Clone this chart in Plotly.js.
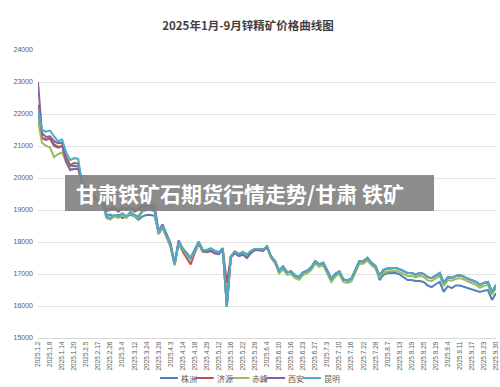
<!DOCTYPE html>
<html>
<head>
<meta charset="utf-8">
<script src="https://cdn.plot.ly/plotly-3.0.1.min.js"></script>
<style>html,body{margin:0;padding:0;background:#fff;}#chart{width:500px;height:387px;}</style>
</head>
<body>
<div id="chart"></div>
<script>
const chartTitle = "2025年1月-9月锌精矿价格曲线图";
const bannerText = "甘肃铁矿石期货行情走势/甘肃 铁矿";

const tickLabels = ["2025.1.2","2025.1.8","2025.1.14","2025.1.20","2025.2.5","2025.2.17","2025.2.26","2025.3.4","2025.3.12","2025.3.24","2025.3.28","2025.4.3","2025.4.14","2025.4.18","2025.4.29","2025.5.12","2025.5.16","2025.5.22","2025.5.28","2025.6.4","2025.6.10","2025.6.16","2025.6.23","2025.6.27","2025.7.3","2025.7.10","2025.7.16","2025.7.22","2025.7.28","2025.8.7","2025.8.13","2025.8.19","2025.8.25","2025.8.29","2025.9.4","2025.9.11","2025.9.17","2025.9.23","2025.9.30"];

const seriesNames = ["株洲","济源","赤峰","西安","昆明"];
const seriesColors = ["#4F81BD","#C0504D","#9BBB59","#8064A2","#4BACC6"];

const zhuzhou = [22200,21250,21200,21230,21000,20950,21000,20600,20380,20380,
20370,19820,19650,19550,19400,19250,19300,18850,18850,18800,
18850,18750,18800,18850,18800,18700,18800,18840,18840,18820,
18300,18500,18200,17900,17300,18000,17800,17650,17500,17750,
18000,17750,17750,17800,17720,17680,17810,15990,17550,17700,
17620,17680,17600,17720,17780,17780,17760,17860,17550,17400,
17100,17230,17050,17080,16950,16900,17050,17100,17200,17400,
17300,17350,17100,16850,17000,17080,16830,16800,16850,17100,
17400,17400,17500,17350,17250,16810,16970,17030,17030,17030,
16990,16900,16810,16810,16780,16780,16750,16640,16590,16680,
16750,16440,16620,16560,16640,16640,16600,16560,16500,16470,
16440,16480,16500,16190,16400];

const jiyuan = [22280,21250,21200,21230,21050,20970,21000,20650,20400,20470,
20450,19850,19650,19550,19400,19250,19350,18970,19000,19050,
18950,19050,19000,19080,18950,19000,19120,19120,19120,19100,
18250,18450,18150,17850,17280,17950,17700,17500,17300,17650,
17950,17690,17680,17720,17650,17640,17780,16720,17550,17700,
17620,17680,17600,17720,17780,17780,17760,17860,17550,17400,
17100,17230,17050,17080,16950,16900,17050,17100,17200,17400,
17300,17350,17100,16850,17000,17080,16830,16800,16850,17100,
17400,17400,17500,17350,17250,16950,17130,17170,17190,17190,
17150,17100,17030,17030,16980,17030,17000,16900,16870,16950,
17030,16720,16900,16880,16940,16960,16920,16850,16800,16750,
16660,16720,16750,16440,16660];

const chifeng = [21780,21100,21000,20950,20650,20750,20800,20500,20280,20300,
20300,19750,19600,19500,19350,19200,19250,18750,18700,18800,
18750,18850,18750,18900,18800,18750,18950,19000,19000,18950,
18250,18450,18150,17850,17280,17950,17750,17600,17450,17700,
17950,17700,17700,17750,17680,17640,17780,15990,17520,17660,
17580,17640,17560,17680,17740,17740,17720,17820,17500,17330,
17020,17150,16970,17000,16870,16820,16970,17020,17120,17320,
17220,17270,17020,16750,16920,17000,16750,16720,16770,17020,
17320,17320,17420,17270,17170,16880,17050,17080,17100,17100,
17060,17000,16940,16940,16890,16940,16910,16800,16780,16860,
16940,16630,16810,16790,16850,16870,16830,16760,16710,16660,
16570,16630,16660,16350,16570];

const xian = [23000,21400,21280,21300,21150,21090,21100,20500,20250,20280,
20280,19850,19700,19600,19450,19300,19350,19000,19050,19080,
19000,19100,19050,19100,19000,19050,19160,19160,19160,19150,
18350,18550,18250,17950,17350,18050,17800,17650,17500,17750,
18000,17720,17700,17720,17650,17620,17750,15990,17520,17650,
17560,17600,17500,17650,17750,17750,17720,17860,17550,17400,
17100,17230,17050,17080,16950,16900,17050,17100,17200,17400,
17300,17350,17100,16850,17000,17080,16830,16800,16850,17100,
17400,17400,17500,17350,17250,16950,17130,17170,17190,17190,
17150,17100,17030,17030,16980,17030,17000,16900,16870,16950,
17030,16720,16900,16880,16940,16960,16920,16850,16800,16750,
16660,16720,16750,16440,16660];

const kunming = [22150,21500,21450,21480,21300,21150,21200,20800,20560,20620,
20600,19800,19650,19550,19400,19250,19300,18800,18750,18850,
18800,18900,18800,18950,18850,18800,19000,19050,19050,19000,
18300,18500,18200,17900,17300,18000,17800,17650,17500,17750,
18000,17750,17750,17800,17720,17680,17810,15970,17550,17700,
17620,17680,17600,17720,17780,17780,17760,17860,17550,17400,
17100,17230,17050,17080,16950,16900,17050,17100,17200,17400,
17300,17350,17100,16850,17000,17080,16830,16800,16850,17100,
17400,17400,17500,17350,17250,16950,17130,17170,17190,17190,
17150,17100,17030,17030,16980,17030,17000,16900,16870,16950,
17030,16720,16900,16880,16940,16960,16920,16850,16800,16750,
16660,16720,16750,16440,16660];

const seriesValues = [zhuzhou, jiyuan, chifeng, xian, kunming];
const labelStep = 3;

const nPts = kunming.length;
const xIdx = kunming.map((_, i) => i);
const tickVals = tickLabels.map((_, k) => k * labelStep);

const W = 500, H = 387;
const M = {l: 38, r: 4, t: 50, b: 49};
const plotW = W - M.l - M.r, plotH = H - M.t - M.b;
const px2x = px => (px - M.l) / plotW;
const py2y = py => (H - M.b - py) / plotH;

const traces = seriesValues.map((vals, k) => ({
  type: 'scatter', mode: 'lines', name: seriesNames[k],
  x: xIdx, y: vals,
  line: {color: seriesColors[k], width: 2},
  hoverinfo: 'skip'
}));

const shapes = [];
const annotations = [];

// legend
const legStart = 160, legPitch = 35.7, legY = 378;
seriesNames.forEach((nm, k) => {
  const x0 = legStart + k * legPitch;
  shapes.push({type: 'line', xref: 'paper', yref: 'paper',
    x0: px2x(x0), x1: px2x(x0 + 18), y0: py2y(legY), y1: py2y(legY),
    line: {color: seriesColors[k], width: 2}});
  annotations.push({xref: 'paper', yref: 'paper', x: px2x(x0 + 19), y: py2y(legY),
    xanchor: 'left', yanchor: 'middle', showarrow: false, text: nm,
    font: {size: 8, color: '#595959', family: '"Noto Sans CJK SC", sans-serif'}});
});

// banner overlay
shapes.push({type: 'rect', xref: 'paper', yref: 'paper', layer: 'above',
  x0: px2x(65), x1: px2x(434), y0: py2y(211), y1: py2y(175),
  fillcolor: 'rgba(128,128,128,0.9)', line: {width: 0}});
annotations.push({xref: 'paper', yref: 'paper', x: px2x(74), y: py2y(193),
  xanchor: 'left', yanchor: 'middle', showarrow: false, text: bannerText,
  font: {size: 21, color: '#ffffff', family: '"Noto Sans CJK SC", sans-serif', weight: 700}});

const layout = {
  width: W, height: H,
  margin: M,
  paper_bgcolor: '#ffffff', plot_bgcolor: '#ffffff',
  showlegend: false,
  title: {text: chartTitle, xref: 'container', x: 0.496, y: 1 - 26 / H, yanchor: 'middle',
    font: {size: 11.5, color: '#404040', family: '"Noto Sans CJK SC", sans-serif', weight: 700}},
  xaxis: {range: [0, nPts - 1], tickmode: 'array', tickvals: tickVals, ticktext: tickLabels,
    tickangle: -90, tickfont: {size: 6.5, color: '#595959', family: '"Liberation Sans", Arial, sans-serif'},
    showgrid: false, zeroline: false, showline: true, linecolor: '#d9d9d9', linewidth: 1, ticks: ''},
  yaxis: {range: [15000, 24000], dtick: 1000, tick0: 15000, tickformat: 'd', gridcolor: '#e3e3e3', gridwidth: 1,
    tickfont: {size: 7, color: '#595959', family: '"Liberation Sans", Arial, sans-serif'},
    zeroline: false, showline: false, ticks: '', ticklabelstandoff: 4},
  shapes: shapes,
  annotations: annotations
};

Plotly.newPlot('chart', traces, layout, {staticPlot: true, displayModeBar: false});
</script>
</body>
</html>
